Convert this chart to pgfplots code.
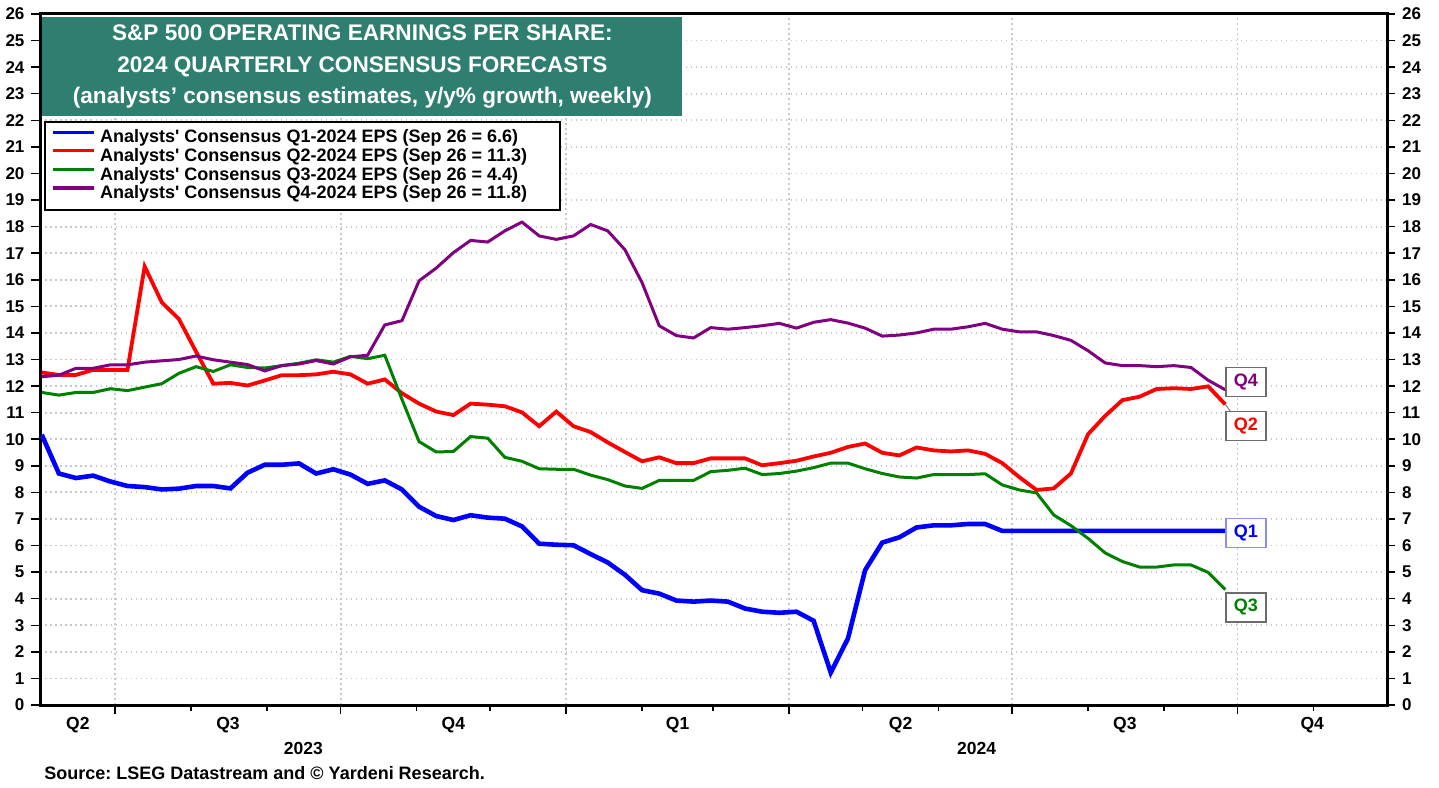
\documentclass[border=0pt]{standalone}
\usepackage{fontspec}
\setmainfont{Liberation Sans}
\newfontfamily\plainfont{Liberation Sans}
\usepackage{pgfplots}
\pgfplotsset{compat=1.18}
\usepackage{pgfplotstable}
\frenchspacing

\definecolor{titlegreen}{RGB}{47,127,112}
\definecolor{qpurple}{RGB}{128,0,128}
\definecolor{qgreen}{RGB}{0,128,0}
\definecolor{gridgray}{RGB}{200,200,200}
\newcommand\sq{{\plainfont\bfseries'}}
\newcommand\lblfont{\fontsize{9}{9}\selectfont\bfseries}

% weekly consensus y/y % growth, x = days since 1 Jan 2023
\pgfplotstableread{
day q1 q2 q3 q4
151 10.17 12.51 11.76 12.35
158 8.71 12.42 11.66 12.41
165 8.54 12.42 11.76 12.67
172 8.63 12.61 11.76 12.67
179 8.41 12.61 11.90 12.80
186 8.24 12.61 11.83 12.80
193 8.20 16.50 11.96 12.90
200 8.11 15.15 12.09 12.95
207 8.14 14.52 12.48 13.00
214 8.24 13.29 12.73 13.13
221 8.24 12.09 12.55 12.99
228 8.15 12.12 12.80 12.90
235 8.74 12.02 12.70 12.81
242 9.04 12.21 12.68 12.57
249 9.04 12.41 12.77 12.77
256 9.09 12.41 12.86 12.83
263 8.71 12.44 12.99 12.96
270 8.87 12.54 12.90 12.83
277 8.67 12.44 13.12 13.10
284 8.32 12.09 13.03 13.16
291 8.45 12.25 13.16 14.30
298 8.11 11.73 11.50 14.46
305 7.46 11.34 9.91 15.96
312 7.11 11.04 9.52 16.44
319 6.96 10.91 9.54 17.02
326 7.14 11.34 10.10 17.48
333 7.05 11.30 10.04 17.42
340 7.01 11.24 9.32 17.84
347 6.72 11.01 9.17 18.17
354 6.07 10.49 8.89 17.65
361 6.03 11.04 8.87 17.52
368 6.01 10.49 8.87 17.65
375 5.68 10.27 8.65 18.08
382 5.36 9.88 8.48 17.84
389 4.90 9.52 8.24 17.13
396 4.32 9.17 8.15 15.89
403 4.19 9.32 8.45 14.27
410 3.93 9.10 8.45 13.90
417 3.89 9.10 8.45 13.81
424 3.93 9.28 8.78 14.20
431 3.89 9.28 8.83 14.14
438 3.63 9.28 8.91 14.20
445 3.51 9.02 8.67 14.27
452 3.47 9.10 8.71 14.36
459 3.51 9.19 8.80 14.18
466 3.17 9.35 8.93 14.40
473 1.22 9.49 9.10 14.50
480 2.50 9.71 9.10 14.37
487 5.07 9.84 8.89 14.18
494 6.11 9.49 8.71 13.88
501 6.31 9.39 8.58 13.92
508 6.68 9.69 8.54 14.00
515 6.76 9.58 8.67 14.14
522 6.76 9.54 8.67 14.14
529 6.81 9.58 8.67 14.23
536 6.81 9.45 8.70 14.36
543 6.55 9.10 8.28 14.14
550 6.55 8.57 8.09 14.04
557 6.55 8.09 7.98 14.04
564 6.55 8.15 7.15 13.90
571 6.55 8.71 6.75 13.72
578 6.55 10.19 6.27 13.33
585 6.55 10.88 5.72 12.87
592 6.55 11.47 5.40 12.77
599 6.55 11.60 5.19 12.77
606 6.55 11.89 5.19 12.73
613 6.55 11.92 5.27 12.77
620 6.55 11.89 5.27 12.70
627 6.55 11.99 4.99 12.22
634 6.55 11.31 4.34 11.86
}\eps

\begin{document}
\begin{tikzpicture}[font=\bfseries]
\begin{axis}[
  name=main,
  scale only axis, width=673.25pt, height=345.5pt,
  xmin=150.5, xmax=700, ymin=0, ymax=26,
  axis line style={line width=1.5pt},
  tick pos=left, tick align=outside,
  major tick length=4.5pt, minor tick length=3pt,
  tick style={black, line width=0.75pt},
  xtick={181,273,365,456,547,639}, xticklabels={},
  minor xtick={212,243,304,334,396,425,486,517,578,609,670},
  extra x ticks={165.75,227,319,410.5,501.5,593,669.5},
  extra x tick labels={Q2,Q3,Q4,Q1,Q2,Q3,Q4},
  extra x tick style={grid=none, major tick length=0pt, tick label style={yshift=-2.5pt}},
  xticklabel style={font=\fontsize{8.75}{9}\selectfont\bfseries},
  ytick={0,...,26},
  yticklabel style={font=\fontsize{8.5}{8.5}\selectfont\bfseries},
  /pgf/number format/assume math mode=true,
  xmajorgrids, ymajorgrids,
  grid style={gridgray, line width=0.9pt, dash pattern=on 0.9pt off 1.6pt},
  legend style={at={(0.0026,0.8452)}, anchor=north west, draw=black, line width=1pt,
    fill=white, font=\lblfont, row sep=0pt, inner xsep=3pt, inner ysep=3.5pt,
    nodes={text height=6.6pt, text depth=1.9pt, inner ysep=0.4pt, inner xsep=2.5pt}},
  legend cell align=left,
  legend image code/.code={\draw[#1, line width=1.6pt] (0pt,3pt) -- (20.5pt,3pt);},
]
\addplot[blue, line width=2.3pt] table[x=day, y=q1] {\eps};
\addlegendentry{Analysts\sq\ Consensus Q1-2024 EPS (Sep 26 = 6.6)}
\addplot[red, line width=1.9pt] table[x=day, y=q2] {\eps};
\addlegendentry{Analysts\sq\ Consensus Q2-2024 EPS (Sep 26 = 11.3)\hspace*{11pt}}
\addplot[qgreen, line width=1.5pt] table[x=day, y=q3] {\eps};
\addlegendentry{Analysts\sq\ Consensus Q3-2024 EPS (Sep 26 = 4.4)}
\addplot[qpurple, line width=1.5pt] table[x=day, y=q4] {\eps};
\addlegendentry{Analysts\sq\ Consensus Q4-2024 EPS (Sep 26 = 11.8)}

\node[fill=titlegreen, text=white, anchor=north west, xshift=0.75pt, yshift=-1.5pt,
  minimum width=320pt, minimum height=49.5pt, inner sep=0pt, align=center,
  font=\fontsize{11.3}{15.75}\selectfont\bfseries] at (rel axis cs:0,1)
  {S\&P 500 OPERATING EARNINGS PER SHARE:\\2024 QUARTERLY CONSENSUS FORECASTS\\(analysts’ consensus estimates, y/y\% growth, weekly)};

\draw[gray, line width=0.5pt] (axis cs:634,11.31) -- (axis cs:636.5,11.0);
\tikzset{endbox/.style={draw=gray!85!black, fill=white, minimum width=20pt, minimum height=14.5pt,
  inner sep=0pt, anchor=west, line width=0.7pt, font=\lblfont}}
\node[endbox, text=qpurple] at (axis cs:634,12.15) {Q4};
\node[endbox, text=red] at (axis cs:634,10.5) {Q2};
\node[endbox, text=blue, draw=blue!45] at (axis cs:634,6.47) {Q1};
\node[endbox, text=qgreen] at (axis cs:634,3.67) {Q3};

\coordinate (y23) at (axis cs:257.75,0);
\coordinate (y24) at (axis cs:532.5,0);
\end{axis}

\begin{axis}[
  at={(main.south west)}, anchor=south west,
  scale only axis, width=673.25pt, height=345.5pt,
  xmin=150.5, xmax=700, ymin=0, ymax=26,
  hide x axis, axis y line*=right,
  axis line style={line width=1.5pt},
  tick align=outside, major tick length=4pt,
  tick style={black, line width=0.75pt},
  ytick={0,...,26},
  yticklabel style={font=\fontsize{8.5}{8.5}\selectfont\bfseries},
  /pgf/number format/assume math mode=true,
]
\addplot[draw=none] coordinates {(200,1)};
\end{axis}

\node[font=\fontsize{8.75}{9}\selectfont\bfseries, anchor=base] at ([yshift=-24.5pt]y23) {2023};
\node[font=\fontsize{8.75}{9}\selectfont\bfseries, anchor=base] at ([yshift=-24.5pt]y24) {2024};
\node[font=\lblfont, anchor=base west, inner sep=0pt] at ([xshift=1.75pt, yshift=-37pt]main.south west)
  {Source: LSEG Datastream and © Yardeni Research.};

\pgfresetboundingbox
\path[use as bounding box] ([shift={(-20.25pt,-41pt)}]main.south west) rectangle ([shift={(26pt,7pt)}]main.north east);
\end{tikzpicture}
\end{document}
